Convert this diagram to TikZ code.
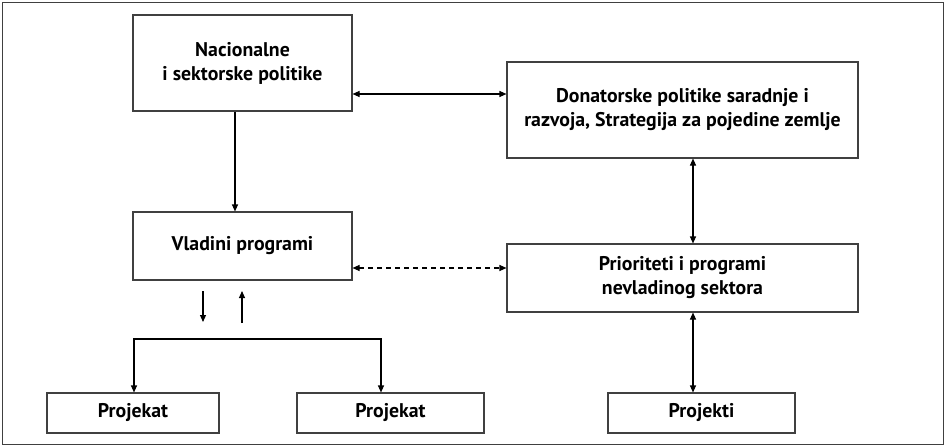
\documentclass[tikz,border=0pt]{standalone}
\usepackage{fontspec}
\setmainfont{PT Sans}
\usetikzlibrary{arrows.meta,calc}
\begin{document}
\begin{tikzpicture}[x=1pt,y=-1pt,
  box/.style={draw=black!75,line width=1.1pt,rectangle,inner sep=0pt,align=center,
    font=\fontsize{19.8}{24}\selectfont\bfseries},
  conn/.style={line width=1.1pt,-{Triangle[length=7pt,width=6pt]}},
  biconn/.style={line width=1.1pt,{Triangle[length=7pt,width=6pt]}-{Triangle[length=7pt,width=6pt]}}]
  \useasboundingbox (0,0) rectangle (946,447);
  \draw[black!75,line width=1.1pt] (2.5,2.5) rectangle (943.5,444.5);

  % boxes
  \node[box,minimum width=219pt,minimum height=96pt] (nac) at (242.5,63) {Nacionalne\\i sektorske politike};
  \node[box,minimum width=351pt,minimum height=96pt] (don) at (682.5,110) {Donatorske politike saradnje i\\razvoja, Strategija za pojedine zemlje};
  \node[box,minimum width=219pt,minimum height=68pt] (vla) at (242.5,246) {Vladini programi};
  \node[box,minimum width=351pt,minimum height=68pt] (pri) at (682.5,278) {Prioriteti i programi\\nevladinog sektora};
  \node[box,minimum width=172pt,minimum height=40pt] (p1) at (133,413) {Projekat};
  \node[box,minimum width=187pt,minimum height=40pt] (p2) at (390.5,413) {Projekat};
  \node[box,minimum width=187pt,minimum height=40pt] (p3) at (701.5,413) {Projekti};

  % helper coordinates for connector positions
  \coordinate (ay) at (0,94);
  \coordinate (vx) at (235,0);
  \coordinate (dy) at (0,268);
  \coordinate (rx) at (693,0);
  \coordinate (dn1) at (203,291);
  \coordinate (dn2) at (203,322);
  \coordinate (up1) at (242,323);
  \coordinate (up2) at (242,291);
  \coordinate (bl) at (134,339);
  \coordinate (br) at (381,339);

  % connectors
  \draw[biconn] (nac.east |- ay) -- (don.west |- ay);
  \draw[conn] (nac.south -| vx) -- (vla.north -| vx);
  \draw[biconn,dash pattern=on 5pt off 4pt] (vla.east |- dy) -- (pri.west |- dy);
  \draw[biconn] (don.south -| rx) -- (pri.north -| rx);
  \draw[biconn] (pri.south -| rx) -- (p3.north -| rx);
  \draw[conn] (dn1) -- (dn2);
  \draw[conn] (up1) -- (up2);
  \draw[biconn] (p1.north -| bl) -- (bl) -- (br) -- (p2.north -| br);
\end{tikzpicture}
\end{document}
